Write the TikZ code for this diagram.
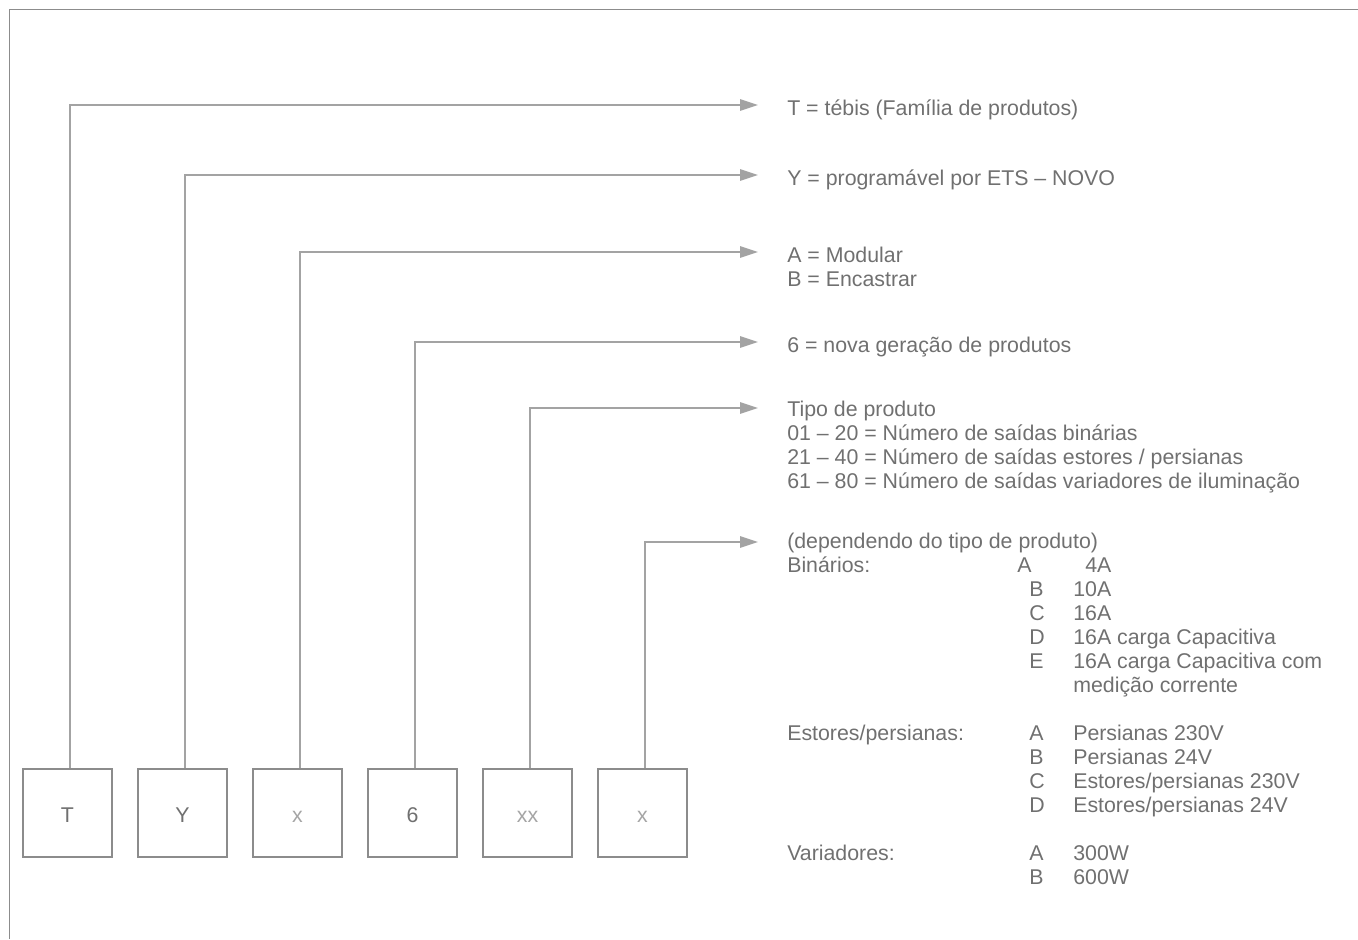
\documentclass[tikz,border=0pt]{standalone}
\usepackage{fontspec}
\setmainfont{Liberation Sans}
\usetikzlibrary{arrows.meta}
\definecolor{leadgray}{RGB}{163,163,163}
\definecolor{boxgray}{RGB}{140,140,140}
\definecolor{txtgray}{RGB}{112,112,112}
\definecolor{softgray}{RGB}{165,165,165}
\newcommand{\txtsize}{\fontsize{16}{18}\selectfont}
\tikzset{
    codebox/.style={draw=boxgray, line width=1.1pt, minimum width=66.75pt, minimum height=66pt, inner sep=0pt, text height=13.5pt, text depth=0pt, font=\txtsize, text=txtgray},
    lead/.style={draw=leadgray, line width=1.5pt, -{Triangle[length=13.5pt,width=8.5pt]}},
    lbl/.style={anchor=base west, inner sep=0pt, font=\txtsize, text=txtgray}
}
\begin{document}
\begin{tikzpicture}[x=0.75pt, y=-0.75pt]
    \useasboundingbox (0,0) rectangle (1358,939);
    \draw[boxgray, line width=1.1pt] (1358,9.5) -- (9.5,9.5) -- (9.5,939);
    \node[codebox] (bT) at (67.5,813) {T};
    \node[codebox] (bY) at (182.5,813) {Y};
    \node[codebox, text=softgray] (bM) at (297.5,813) {x};
    \node[codebox] (bG) at (412.5,813) {6};
    \node[codebox, text=softgray] (bP) at (527.5,813) {xx};
    \node[codebox, text=softgray] (bV) at (642.5,813) {x};
    \coordinate (tT) at (758,105);
    \coordinate (tY) at (758,175);
    \coordinate (tM) at (758,252);
    \coordinate (tG) at (758,342);
    \coordinate (tP) at (758,408);
    \coordinate (tV) at (758,542);
    \draw[lead] ([xshift=1.9pt]bT.north) |- (tT);
    \draw[lead] ([xshift=1.9pt]bY.north) |- (tY);
    \draw[lead] ([xshift=1.9pt]bM.north) |- (tM);
    \draw[lead] ([xshift=1.9pt]bG.north) |- (tG);
    \draw[lead] ([xshift=1.9pt]bP.north) |- (tP);
    \draw[lead] ([xshift=1.9pt]bV.north) |- (tV);
    \foreach \y/\t [count=\i] in {115/{T = tébis (Família de produtos)}, 185/{Y = programável por ETS – NOVO},
        262/{A = Modular}, 286/{B = Encastrar}, 352/{6 = nova geração de produtos},
        416/{Tipo de produto}, 440/{01 – 20 = Número de saídas binárias},
        464/{21 – 40 = Número de saídas estores / persianas}, 488/{61 – 80 = Número de saídas variadores de iluminação},
        548/{(dependendo do tipo de produto)}, 572/{Binários:}, 740/{Estores/persianas:}, 860/{Variadores:}}
        \node[lbl] (l\i) at (787,\y) {\t};
    \node[lbl] (kA1) at (1017,572) {A};
    \foreach \y/\t [count=\i] in {596/B, 620/C, 644/D, 668/E, 740/A, 764/B, 788/C, 812/D, 860/A, 884/B}
        \node[lbl] (k\i) at (1029,\y) {\t};
    \node[lbl] (vA1) at (1085,572) {4A};
    \foreach \y/\t [count=\i] in {596/{10A}, 620/{16A}, 644/{16A carga Capacitiva}, 668/{16A carga Capacitiva com},
        692/{medição corrente}, 740/{Persianas 230V}, 764/{Persianas 24V}, 788/{Estores/persianas 230V},
        812/{Estores/persianas 24V}, 860/{300W}, 884/{600W}}
        \node[lbl] (v\i) at (1073,\y) {\t};
\end{tikzpicture}
\end{document}
